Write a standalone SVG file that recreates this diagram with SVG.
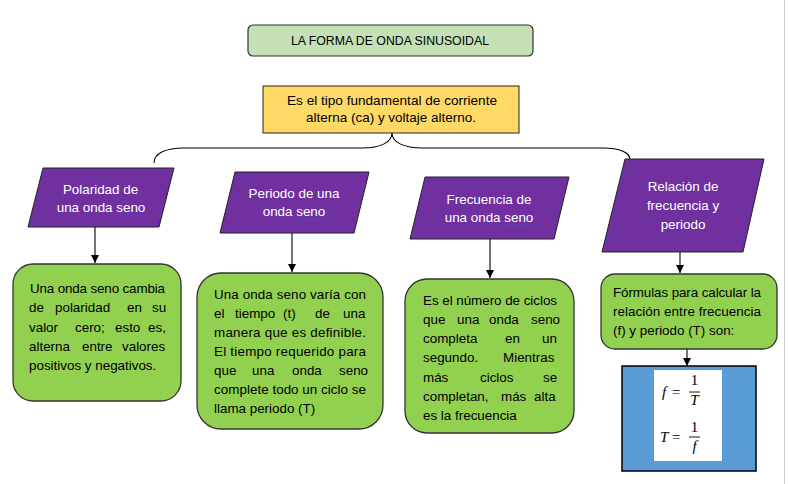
<svg xmlns="http://www.w3.org/2000/svg" width="788" height="484" viewBox="0 0 788 484">
<defs>
<marker id="ah" markerWidth="10" markerHeight="10" refX="8" refY="5" orient="auto" markerUnits="userSpaceOnUse">
<path d="M0,1 L8,5 L0,9 Z" fill="#000"/>
</marker>
<style>
.t{font-family:"Liberation Sans",Arial,sans-serif;font-size:13.4px;fill:#000}
.w{font-family:"Liberation Sans",Arial,sans-serif;font-size:13.4px;fill:#fff}
.para{fill:#7030A0;stroke:#222;stroke-width:1}
.gbox{fill:#92D050;stroke:#333;stroke-width:1.3}
.m{font-family:"Liberation Serif","Times New Roman",serif;font-size:15px;fill:#000}
.sq{fill:none;stroke:#3355dd;stroke-width:0.9}
.conn{fill:none;stroke:#000;stroke-width:1.1}
</style>
</defs>
<rect x="0" y="0" width="788" height="484" fill="#fff"/>
<line x1="784.5" y1="0" x2="784.5" y2="484" stroke="#cfcfcf" stroke-width="1"/>

<g id="title">
<rect x="248" y="25" width="285" height="31" rx="5" fill="#C5E0B4" stroke="#333" stroke-width="1.2"/>
<text class="t" x="291" y="45" textLength="198" lengthAdjust="spacingAndGlyphs" font-size="13">LA FORMA DE ONDA SINUSOIDAL</text>
</g>

<g id="definition">
<rect x="263" y="86" width="256" height="47" fill="#FFD966" stroke="#222" stroke-width="1"/>
<text class="t" x="287" y="105" textLength="210" lengthAdjust="spacingAndGlyphs">Es el tipo fundamental de corriente</text>
<text class="t" x="306" y="122" textLength="170" lengthAdjust="spacingAndGlyphs">alterna (ca) y voltaje alterno.</text>
</g>

<g id="connectors">
<path class="conn" d="M154,163 C154,153 166,148 184,148 L362,148 C381,148 392,142 392,133 C392,142 403,148 423,148 L603,148 C619,148 630,152 630,160"/>
<line class="conn" x1="95" y1="227" x2="95" y2="263" marker-end="url(#ah)"/>
<line class="conn" x1="292" y1="233" x2="292" y2="272" marker-end="url(#ah)"/>
<line class="conn" x1="490" y1="239" x2="490" y2="278" marker-end="url(#ah)"/>
<line class="conn" x1="680" y1="252" x2="680" y2="273" marker-end="url(#ah)"/>
<line class="conn" x1="687" y1="349" x2="687" y2="366" marker-end="url(#ah)"/>
</g>

<g id="polaridad">
<polygon class="para" points="43,168 174,168 159,227 28,227"/>
<text class="w" x="100.5" y="194" text-anchor="middle">Polaridad de</text>
<text class="w" x="101" y="212" text-anchor="middle">una onda seno</text>
<path class="sq" stroke-dasharray="1.5,1" d="M117,215 L145,215"/>
</g>

<g id="polaridad-desc">
<rect x="13" y="264" width="168" height="137" rx="20" class="gbox"/>
<text class="t" x="30" y="293" textLength="135" lengthAdjust="spacing">Una onda seno cambia</text>
<text class="t" y="312"><tspan x="29">de</tspan><tspan x="55">polaridad</tspan><tspan x="127">en</tspan><tspan x="152">su</tspan></text>
<text class="t" y="332"><tspan x="29">valor</tspan><tspan x="75">cero;</tspan><tspan x="115">esto</tspan><tspan x="148">es,</tspan></text>
<text class="t" y="351"><tspan x="29">alterna</tspan><tspan x="82">entre</tspan><tspan x="122">valores</tspan></text>
<text class="t" x="29" y="370">positivos y negativos.</text>
</g>

<g id="periodo">
<polygon class="para" points="235,172 369,172 354,233 220,233"/>
<text class="w" x="294" y="198" text-anchor="middle">Periodo de una</text>
<text class="w" x="294" y="216" text-anchor="middle">onda seno</text>
<path class="sq" d="M298,219.5 q1.5,-1.5 3,0 t3,0 t3,0 t3,0 t3,0 t3,0 t3,0 t3,0 t3,0"/>
</g>

<g id="periodo-desc">
<rect x="197" y="273" width="186" height="156" rx="24" class="gbox"/>
<text class="t" x="214" y="299" textLength="152" lengthAdjust="spacing">Una onda seno varía con</text>
<text class="t" y="318"><tspan x="214">el</tspan><tspan x="235">tiempo</tspan><tspan x="283">(t)</tspan><tspan x="315">de</tspan><tspan x="343">una</tspan></text>
<text class="t" x="214" y="337" textLength="152" lengthAdjust="spacing">manera que es definible.</text>
<text class="t" x="214" y="356" textLength="152" lengthAdjust="spacing">El tiempo requerido para</text>
<text class="t" y="375"><tspan x="214">que</tspan><tspan x="252">una</tspan><tspan x="292">onda</tspan><tspan x="339">seno</tspan></text>
<text class="t" x="214" y="394" textLength="152" lengthAdjust="spacing">complete todo un ciclo se</text>
<text class="t" x="214" y="413">llama periodo (T)</text>
</g>

<g id="frecuencia">
<polygon class="para" points="425,177 569,177 554,239 410,239"/>
<text class="w" x="489" y="204" text-anchor="middle">Frecuencia de</text>
<text class="w" x="489" y="222" text-anchor="middle">una onda seno</text>
<path class="sq" d="M505,225.5 q1.5,-1.5 3,0 t3,0 t3,0 t3,0 t3,0 t3,0 t3,0 t3,0 t3,0"/>
</g>

<g id="frecuencia-desc">
<rect x="405" y="279" width="169" height="154" rx="22" class="gbox"/>
<text class="t" x="423" y="305" textLength="134" lengthAdjust="spacing">Es el número de ciclos</text>
<text class="t" y="324"><tspan x="423">que</tspan><tspan x="457">una</tspan><tspan x="489">onda</tspan><tspan x="531">seno</tspan></text>
<text class="t" y="343"><tspan x="423">completa</tspan><tspan x="505">en</tspan><tspan x="542">un</tspan></text>
<text class="t" y="362"><tspan x="423">segundo.</tspan><tspan x="503">Mientras</tspan></text>
<text class="t" y="382"><tspan x="423">más</tspan><tspan x="480">ciclos</tspan><tspan x="543">se</tspan></text>
<text class="t" y="401"><tspan x="423">completan,</tspan><tspan x="501">más</tspan><tspan x="534">alta</tspan></text>
<text class="t" x="423" y="420">es la frecuencia</text>
</g>

<g id="relacion">
<polygon class="para" points="625,159 764,159 743,252 602,252"/>
<text class="w" x="683" y="191" text-anchor="middle">Relación de</text>
<text class="w" x="683" y="210" text-anchor="middle">frecuencia y</text>
<text class="w" x="683" y="229" text-anchor="middle">periodo</text>
</g>

<g id="relacion-desc">
<rect x="601" y="274" width="176" height="75" rx="14" class="gbox"/>
<text class="t" x="613" y="297" textLength="148" lengthAdjust="spacing">Fórmulas para calcular la</text>
<text class="t" x="613" y="316" textLength="148" lengthAdjust="spacing">relación entre frecuencia</text>
<text class="t" x="613" y="335">(f) y periodo (T) son:</text>
</g>

<g id="formulas">
<rect x="622" y="366" width="134" height="105" fill="#5B9BD5" stroke="#000" stroke-width="1.5"/>
<rect x="654" y="370" width="68" height="91" fill="#fff"/>
<text class="m" x="662" y="397" font-style="italic">f</text>
<text class="m" x="672" y="397">=</text>
<text class="m" x="694.5" y="385" text-anchor="middle">1</text>
<line x1="689" y1="392" x2="700" y2="392" stroke="#000" stroke-width="0.9"/>
<text class="m" x="694.5" y="405" text-anchor="middle" font-style="italic">T</text>
<text class="m" x="660" y="442" font-style="italic">T</text>
<text class="m" x="672" y="442">=</text>
<text class="m" x="694.5" y="432" text-anchor="middle">1</text>
<line x1="689" y1="437" x2="700" y2="437" stroke="#000" stroke-width="0.9"/>
<text class="m" x="694.5" y="451" text-anchor="middle" font-style="italic">f</text>
</g>
</svg>
